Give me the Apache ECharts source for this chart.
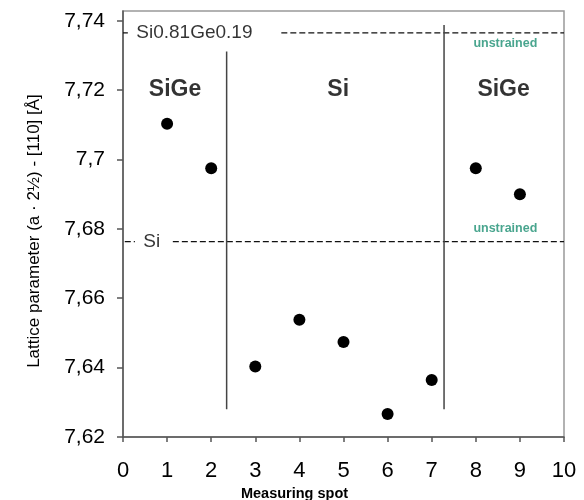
<!DOCTYPE html>
<html>
<head>
<meta charset="utf-8">
<script src="https://cdn.jsdelivr.net/npm/echarts@6/dist/echarts.min.js"></script>
<style>html,body{margin:0;padding:0;background:#fff}#c{width:584px;height:500px}</style>
</head>
<body>
<div id="c"></div>
<script>
// ---- data ----
var spots = [1, 2, 3, 4, 5, 6, 7, 8, 9];
var lattice = [7.7103, 7.6975, 7.6403, 7.6538, 7.6474, 7.6266, 7.6364, 7.6975, 7.6900];

var xTicks = [0, 1, 2, 3, 4, 5, 6, 7, 8, 9, 10];
var yTicks = [7.62, 7.64, 7.66, 7.68, 7.70, 7.72, 7.74];

// reference (unstrained) lattice parameters
var refNames = ['Si0.81Ge0.19', 'Si'];
var refValues = [7.7365, 7.6763];
var refShortDash = [[0, 0.11], [0.04, 0.27]];
var refLongDash = [[3.59, 10], [1.13, 10]];
var refLabelX = [0.29, 0.45];

// region dividers
var dividerX = [2.35, 7.28];
var dividerTop = [7.7311, 7.7388];
var dividerBottom = 7.628;

// region labels
var regionNames = ['SiGe', 'Si', 'SiGe'];
var regionX = [1.18, 4.88, 8.63];
var regionY = 7.7202;

// "unstrained" annotations
var unstrainedX = 8.67;
var unstrainedY = [7.7333, 7.6800];

// ---- build ----
var FONT = '"Liberation Sans", Arial, sans-serif';
function fmt(v) {
  var k = v / 0.02;
  if (Math.abs(k - Math.round(k)) > 1e-6) return '';
  return (+v.toFixed(2)).toString().replace('.', ',');
}

var series = [];
// dashed reference lines
refValues.forEach(function (v, i) {
  [refShortDash[i], refLongDash[i]].forEach(function (seg) {
    series.push({
      type: 'line', silent: true, symbol: 'none', z: 2,
      data: [[seg[0], v], [seg[1], v]],
      lineStyle: { color: '#111', width: 1.3, type: [6, 3], opacity: 1 }
    });
  });
});
// dividers
dividerX.forEach(function (x, i) {
  series.push({
    type: 'line', silent: true, symbol: 'none', z: 2,
    data: [[x, dividerBottom], [x, dividerTop[i]]],
    lineStyle: { color: '#444', width: 1.5, opacity: 1 }
  });
});
// points
series.push({
  type: 'scatter', z: 5,
  data: spots.map(function (s, i) { return [s, lattice[i]]; }),
  symbol: 'circle', symbolSize: 12,
  itemStyle: { color: '#000', opacity: 1 }
});
// reference labels
series.push({
  type: 'scatter', silent: true, z: 4, symbolSize: 1,
  itemStyle: { color: 'rgba(0,0,0,0)' },
  data: refNames.map(function (n, i) { return { name: n, value: [refLabelX[i], refValues[i]] }; }),
  label: { show: true, position: 'right', distance: 0, formatter: '{b}',
    color: '#000', fontFamily: FONT, fontSize: 19, verticalAlign: 'middle' }
});
// region labels
series.push({
  type: 'scatter', silent: true, z: 4, symbolSize: 1,
  itemStyle: { color: 'rgba(0,0,0,0)' },
  data: regionNames.map(function (n, i) { return { name: n, value: [regionX[i], regionY] }; }),
  label: { show: true, position: 'inside', formatter: '{b}',
    color: '#000', fontFamily: FONT, fontSize: 23, fontWeight: 'bold' }
});
// unstrained labels
series.push({
  type: 'scatter', silent: true, z: 4, symbolSize: 1,
  itemStyle: { color: 'rgba(0,0,0,0)' },
  data: unstrainedY.map(function (y) { return { name: 'unstrained', value: [unstrainedX, y] }; }),
  label: { show: true, position: 'inside', formatter: '{b}',
    color: '#1b8f72', fontFamily: FONT, fontSize: 12.5, fontWeight: 'bold' }
});

var chart = echarts.init(document.getElementById('c'), null, { renderer: 'canvas' });
chart.setOption({
  animation: false,
  backgroundColor: '#fff',
  grid: { left: 123, right: 20, top: 11, bottom: 63, show: true, borderColor: '#999', borderWidth: 1.5,
    containLabel: false, outerBoundsMode: 'none' },
  xAxis: {
    type: 'value', min: xTicks[0], max: xTicks[xTicks.length - 1], interval: 1,
    name: 'Measuring spot', nameLocation: 'middle', nameGap: 47,
    nameTextStyle: { fontFamily: FONT, fontSize: 14.5, fontWeight: 'bold', color: '#000', padding: [0, 98, 0, 0] },
    axisLine: { show: true, onZero: false, lineStyle: { color: '#555', width: 1.5 } },
    axisTick: { show: true, inside: false, length: 5, lineStyle: { color: '#555', width: 1.5 } },
    axisLabel: { fontFamily: FONT, fontSize: 22, color: '#000', margin: 23 },
    splitLine: { show: false }
  },
  yAxis: {
    type: 'value', min: yTicks[0], max: 7.7428, interval: 0.02,
    name: 'Lattice parameter (a · 2½) - [110] [Å]', nameLocation: 'middle', nameGap: 80,
    nameTextStyle: { fontFamily: FONT, fontSize: 17, color: '#000', padding: [0, 14, 0, 0] },
    axisLine: { show: true, lineStyle: { color: '#555', width: 1.5 } },
    axisTick: { show: true, inside: false, length: 6, lineStyle: { color: '#555', width: 1.5 } },
    axisLabel: { fontFamily: FONT, fontSize: 21, color: '#000', margin: 18, formatter: fmt, showMaxLabel: false },
    splitLine: { show: false }
  },
  series: series
});
</script>
</body>
</html>
